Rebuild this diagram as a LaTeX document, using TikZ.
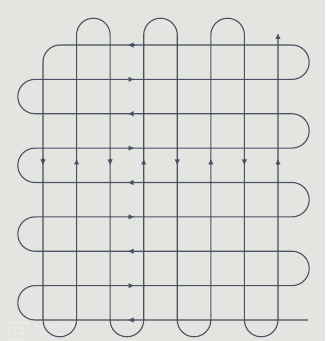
\documentclass[tikz,border=0pt]{standalone}
\usetikzlibrary{arrows.meta}
\definecolor{bg}{RGB}{228,228,225}
\definecolor{ln}{RGB}{72,82,98}
\definecolor{wm}{RGB}{239,239,237}
\tikzset{
  pathline/.style={draw=ln, line width=1.1pt, line join=round},
  tip/.style={draw=ln, line width=1.1pt, -{Latex[length=6pt,width=5.5pt]}},
  wmtext/.style={text=wm, font=\sffamily\fontsize{7}{7}\selectfont, inner sep=0pt, anchor=west}
}
\begin{document}
\begin{tikzpicture}[x=1pt,y=1pt]
\fill[bg] (0,0) rectangle (325,341);
\useasboundingbox (0,0) rectangle (325,341);
\def\r{17.1875}
\def\rv{16.785}
% watermark
\node[draw=wm, line width=0.8pt, rounded corners=1.5pt, minimum width=20pt, minimum height=17pt, text=wm, font=\sffamily\bfseries\fontsize{9}{9}\selectfont] (cs) at (19,10) {CS};
\node[wmtext] (wm1) at (33,16) {Scanned with};
\node[wmtext] (wm2) at (33,6) {CamScanner};
% the serpentine path
\draw[pathline, -{Latex[length=6pt,width=5.5pt]}]
  (308,21) -- (35,21) arc[start angle=270,end angle=90,radius=\r]
  -- (292,55.375) arc[start angle=-90,end angle=90,radius=\r]
  -- (35,89.75) arc[start angle=270,end angle=90,radius=\r]
  -- (292,124.125) arc[start angle=-90,end angle=90,radius=\r]
  -- (35,158.5) arc[start angle=270,end angle=90,radius=\r]
  -- (292,192.875) arc[start angle=-90,end angle=90,radius=\r]
  -- (35,227.25) arc[start angle=270,end angle=90,radius=\r]
  -- (292,261.625) arc[start angle=-90,end angle=90,radius=\r]
  -- (60,296) arc[start angle=90,end angle=180,radius=17]
  -- (43,21) arc[start angle=180,end angle=360,radius=\rv]
  -- (76.57,306) arc[start angle=180,end angle=0,radius=\rv]
  -- (110.14,21) arc[start angle=180,end angle=360,radius=\rv]
  -- (143.71,306) arc[start angle=180,end angle=0,radius=\rv]
  -- (177.28,21) arc[start angle=180,end angle=360,radius=\rv]
  -- (210.85,306) arc[start angle=180,end angle=0,radius=\rv]
  -- (244.42,21) arc[start angle=180,end angle=360,radius=\rv]
  -- (277.99,308);
% arrowheads on horizontals (left / right alternately)
\foreach \y/\d in {21/-1,55.375/1,89.75/-1,124.125/1,158.5/-1,192.875/1,227.25/-1,261.625/1,296/-1}
  \draw[tip] ({131-3.5*\d},\y) -- ({131+3.5*\d},\y);
% arrowheads on verticals (down / up alternately)
\foreach \x/\d in {43/-1,76.57/1,110.14/-1,143.71/1,177.28/-1,210.85/1,244.42/-1,277.99/1}
  \draw[tip] (\x,{179-3.5*\d}) -- (\x,{179+3.5*\d});
\end{tikzpicture}
\end{document}
